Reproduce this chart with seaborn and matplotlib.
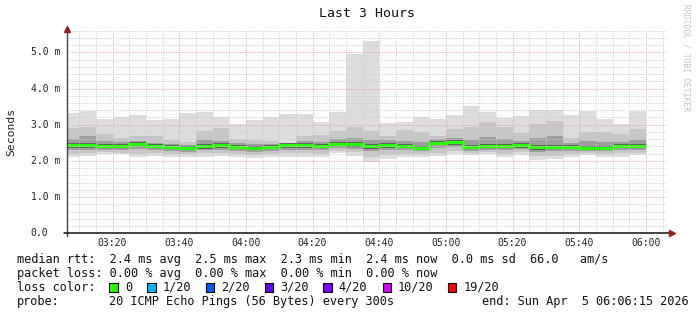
import matplotlib
matplotlib.use("Agg")
import matplotlib.pyplot as plt
import pandas as pd
import seaborn as sns
from matplotlib.lines import Line2D
from matplotlib.patches import Rectangle

# ---------------- data ----------------
title = "Last 3 Hours"
start_time = "03:06:15"
interval_ends = pd.date_range("2026-04-05 03:10", "2026-04-05 06:00", freq="5min")

# round-trip times in milliseconds, one value per 5-minute interval
rtt_max = [3.33, 3.39, 3.16, 3.22, 3.27, 3.13, 3.16, 3.33, 3.36, 3.21, 3.01, 3.13,
           3.21, 3.30, 3.30, 3.07, 3.36, 4.95, 5.31, 3.04, 3.07, 3.20, 3.16, 3.27,
           3.51, 3.35, 3.19, 3.24, 3.41, 3.41, 3.27, 3.39, 3.17, 3.02, 3.39]
rtt_hi = [2.90, 2.95, 2.75, 2.62, 2.69, 2.69, 2.58, 2.53, 2.83, 2.90, 2.60, 2.58,
          2.55, 2.50, 2.69, 2.72, 2.83, 2.95, 2.83, 2.69, 2.85, 2.81, 2.69, 2.87,
          2.95, 3.07, 2.95, 2.78, 3.02, 3.11, 2.62, 2.81, 2.81, 2.75, 2.89]
rtt_hi2 = [2.60, 2.70, 2.55, 2.52, 2.56, 2.50, 2.48, 2.44, 2.58, 2.56, 2.50, 2.47,
           2.46, 2.50, 2.56, 2.52, 2.60, 2.62, 2.58, 2.58, 2.55, 2.52, 2.60, 2.62,
           2.58, 2.66, 2.60, 2.55, 2.62, 2.70, 2.50, 2.56, 2.52, 2.52, 2.58]
rtt_hi3 = [2.49, 2.49, 2.47, 2.47, 2.53, 2.47, 2.44, 2.41, 2.46, 2.49, 2.44, 2.42,
           2.44, 2.49, 2.49, 2.47, 2.52, 2.52, 2.47, 2.49, 2.47, 2.42, 2.55, 2.57,
           2.44, 2.47, 2.47, 2.49, 2.44, 2.44, 2.44, 2.42, 2.42, 2.47, 2.47]
rtt_median = [2.44, 2.44, 2.42, 2.42, 2.48, 2.42, 2.39, 2.36, 2.41, 2.44, 2.39, 2.37,
              2.39, 2.44, 2.44, 2.42, 2.47, 2.47, 2.42, 2.44, 2.42, 2.36, 2.50, 2.52,
              2.39, 2.42, 2.42, 2.44, 2.39, 2.39, 2.39, 2.37, 2.37, 2.42, 2.42]
rtt_lo3 = [2.36, 2.37, 2.35, 2.35, 2.40, 2.35, 2.32, 2.29, 2.34, 2.37, 2.32, 2.30,
           2.32, 2.37, 2.37, 2.35, 2.40, 2.39, 2.34, 2.37, 2.35, 2.30, 2.43, 2.45,
           2.32, 2.35, 2.35, 2.37, 2.31, 2.32, 2.32, 2.30, 2.30, 2.35, 2.35]
rtt_lo2 = [2.30, 2.31, 2.30, 2.29, 2.32, 2.29, 2.27, 2.25, 2.29, 2.31, 2.27, 2.24,
           2.26, 2.31, 2.30, 2.30, 2.35, 2.33, 2.26, 2.29, 2.29, 2.26, 2.36, 2.38,
           2.28, 2.31, 2.29, 2.32, 2.25, 2.26, 2.27, 2.27, 2.26, 2.30, 2.30]
rtt_lo = [2.20, 2.22, 2.24, 2.23, 2.20, 2.22, 2.20, 2.19, 2.21, 2.22, 2.20, 2.16,
          2.20, 2.21, 2.22, 2.20, 2.27, 2.24, 2.12, 2.16, 2.19, 2.20, 2.22, 2.26,
          2.23, 2.25, 2.20, 2.24, 2.13, 2.14, 2.20, 2.23, 2.20, 2.21, 2.23]
rtt_min = [2.12, 2.14, 2.18, 2.18, 2.12, 2.14, 2.12, 2.12, 2.12, 2.14, 2.12, 2.07,
           2.12, 2.12, 2.12, 2.12, 2.21, 2.14, 1.98, 2.04, 2.10, 2.12, 2.14, 2.19,
           2.16, 2.18, 2.12, 2.16, 2.02, 2.04, 2.12, 2.16, 2.12, 2.12, 2.16]

x_tick_labels = ["03:20", "03:40", "04:00", "04:20", "04:40",
                 "05:00", "05:20", "05:40", "06:00"]
y_ticks = [0, 1, 2, 3, 4, 5]
y_tick_labels = ["0.0", "1.0 m", "2.0 m", "3.0 m", "4.0 m", "5.0 m"]
y_label = "Seconds"

median_line = "median rtt:  2.4 ms avg  2.5 ms max  2.3 ms min  2.4 ms now  0.0 ms sd  66.0   am/s"
loss_line = "packet loss: 0.00 % avg  0.00 % max  0.00 % min  0.00 % now"
loss_title = "loss color:"
loss_labels = ["0", "1/20", "2/20", "3/20", "4/20", "10/20", "19/20"]
loss_colors = ["#26ff00", "#00b8ff", "#0059ff", "#5e00ff", "#7e00ff", "#dd00ff", "#ff0000"]
probe_title = "probe:"
probe_text = "20 ICMP Echo Pings (56 Bytes) every 300s"
end_text = "end: Sun Apr  5 06:06:15 2026"
watermark = "RRDTOOL / TOBI OETIKER"

# ---------------- helpers ----------------
W, H = 697, 315


def minutes(s):
    parts = [float(p) for p in s.split(":")]
    return parts[0] * 60 + parts[1] + (parts[2] / 60 if len(parts) > 2 else 0)


def fx(x):
    return x / W


def fy(y):
    return 1 - y / H


edges = [minutes(start_time)] + [t.hour * 60 + t.minute for t in interval_ends]
x_start = edges[0]
x_end = x_start + 180
x_ticks = [minutes(t) for t in x_tick_labels]


def ext(v):
    return list(v) + [v[-1]]


sns.set_style("white")
mono = ["DejaVu Sans Mono"]
plt.rcParams["font.family"] = mono

fig = plt.figure(figsize=(W / 100, H / 100), dpi=100)
fig.patch.set_facecolor("white")

L, R, T, B = 66.7, 666.7, 30.6, 233.3
ax = fig.add_axes([fx(L), fy(B), (R - L) / W, (B - T) / H])
ax.set_facecolor("white")
ax.set_xlim(x_start, x_end)
ax.set_ylim(0, 5.6)

# smoke bands
bands = [(rtt_min, rtt_max, "#dddddd"),
         (rtt_lo, rtt_hi, "#c6c6c6"),
         (rtt_lo2, rtt_hi2, "#9e9e9e"),
         (rtt_lo3, rtt_hi3, "#5c5c5c")]
for lo, hi, c in bands:
    ax.fill_between(edges, ext(lo), ext(hi), step="post", color=c,
                    linewidth=0, zorder=1)

# median (loss colour 0)
sns.lineplot(x=edges, y=ext(rtt_median), drawstyle="steps-post",
             color=loss_colors[0], linewidth=2.3, ax=ax, zorder=2,
             solid_capstyle="butt", solid_joinstyle="miter")

# grid
ax.set_xticks(x_ticks)
ax.set_xticks([minutes("03:10") + 5 * i for i in range(36)], minor=True)
ax.set_yticks(y_ticks)
ax.set_yticks([0.2 * i for i in range(29)], minor=True)
ax.set_xticklabels([])
ax.set_yticklabels([])
ax.grid(False)
ax.set_axisbelow(False)
ax.grid(which="minor", color="#cccccc", linestyle=(0, (1, 1.4)), linewidth=0.72)
ax.grid(which="major", color="#e6a0a0", linestyle=(0, (1, 1.4)), linewidth=0.72)
ax.tick_params(which="both", direction="out", length=2, width=0.7,
               color="#777777", pad=1)
for s in ax.spines.values():
    s.set_visible(False)
ax.set_xlabel("")
ax.set_ylabel("")
if ax.get_legend():
    ax.get_legend().remove()

# axes lines and arrows
fig.add_artist(Line2D([fx(L), fx(L)], [fy(B + 3), fy(29)], color="#444444", lw=1.0))
fig.add_artist(Line2D([fx(L - 3), fx(671)], [fy(B), fy(B)], color="#111111", lw=1.1))
fig.add_artist(Line2D([fx(L)], [fy(28.5)], marker="^", markersize=4.2,
                      color="#9a1c1c", linestyle="none"))
fig.add_artist(Line2D([fx(672)], [fy(B)], marker=">", markersize=4.2,
                      color="#9a1c1c", linestyle="none"))

# tick labels
for lab, xv in zip(x_tick_labels, x_ticks):
    xp = L + (xv - x_start) / (x_end - x_start) * (R - L)
    fig.text(fx(xp), fy(242.5), lab, ha="center", va="center", fontsize=7,
             color="#222222")
for lab, yv in zip(y_tick_labels, y_ticks):
    yp = B - yv / 5.6 * (B - T)
    fig.text(fx(30.7), fy(yp), lab, ha="left", va="center", fontsize=7,
             color="#222222")

fig.text(fx(11), fy(132), y_label, rotation=90, ha="center", va="center",
         fontsize=8.2, color="#222222")
fig.text(fx(366.7), fy(13.5), title, ha="center", va="center", fontsize=9.5,
         color="#111111")
fig.text(fx(686), fy(4), watermark, rotation=270, ha="center", va="top",
         fontsize=5.8, color="#c4c4c4")

# legend block
fs = 8.6
fig.text(fx(16.6), fy(263), median_line, ha="left", va="baseline", fontsize=fs, color="#111111")
fig.text(fx(16.6), fy(277), loss_line, ha="left", va="baseline", fontsize=fs, color="#111111")
fig.text(fx(16.6), fy(291), loss_title, ha="left", va="baseline", fontsize=fs, color="#111111")
box_left = [109.4, 147.2, 205.7, 264.6, 323.1, 382.5, 447.8]
for bl, lab, col in zip(box_left, loss_labels, loss_colors):
    fig.add_artist(Rectangle((fx(bl), fy(292)), 8.6 / W, 9.5 / H,
                             facecolor=col, edgecolor="#000000", lw=0.8))
    fig.text(fx(bl + 15.5), fy(291), lab, ha="left", va="baseline",
             fontsize=fs, color="#111111")
fig.text(fx(16.6), fy(305), probe_title, ha="left", va="baseline", fontsize=fs, color="#111111")
fig.text(fx(108.9), fy(305), probe_text, ha="left", va="baseline", fontsize=fs, color="#111111")
fig.text(fx(688.6), fy(305), end_text, ha="right", va="baseline", fontsize=fs, color="#111111")

fig.savefig("out.png", dpi=100, facecolor="white")
